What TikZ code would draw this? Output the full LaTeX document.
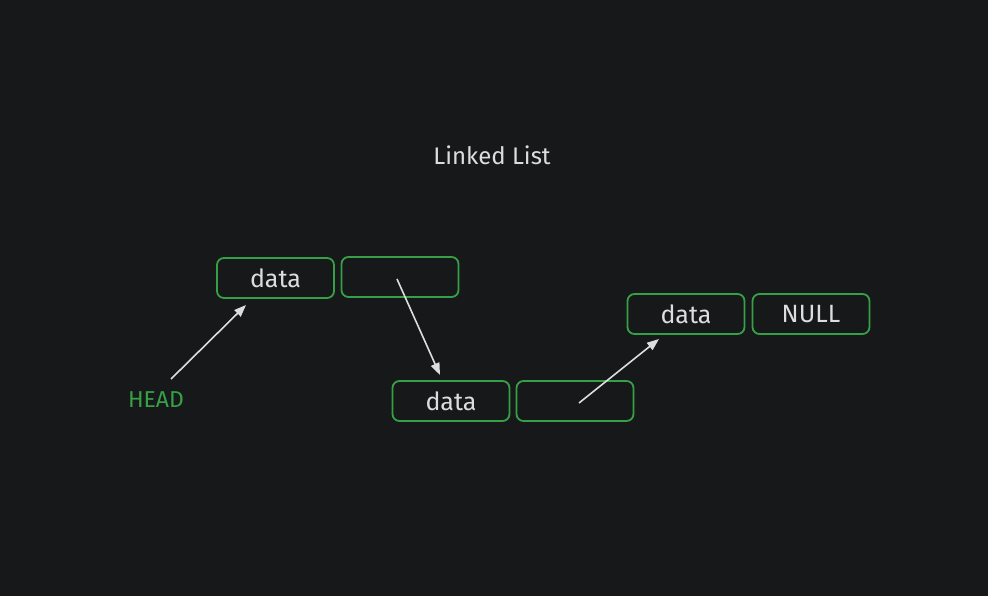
\documentclass[tikz,border=0pt]{standalone}
\usepackage{fontspec}
\setmainfont{Fira Sans}
\usetikzlibrary{arrows.meta}
\definecolor{bg}{HTML}{17181A}
\definecolor{grn}{HTML}{36A046}
\definecolor{txt}{HTML}{DDDDDD}
\tikzset{
  cell/.style={draw=grn, line width=1.8pt, rounded corners=7pt, minimum width=117pt, minimum height=40pt, inner sep=0pt, text=txt, font=\fontsize{25}{28}\selectfont},
  ptr/.style={draw=txt, line width=1.6pt, -{Triangle[length=12pt,width=9pt]}},
  lbl/.style={text=txt, font=\fontsize{24}{28}\selectfont, inner sep=0pt}
}
\begin{document}
\begin{tikzpicture}[x=1pt,y=-1pt]
\fill[bg] (0,0) rectangle (988,596);
\useasboundingbox (0,0) rectangle (988,596);
\node[lbl] (title) at (492,155) {Linked List};
\node[cell] (d1) at (275.5,278) {data};
\node[cell] (n1) at (400,277) {};
\node[cell] (d2) at (451,401) {data};
\node[cell] (n2) at (575,401) {};
\node[cell] (d3) at (686,314) {data};
\node[cell] (n3) at (811,314) {NULL};
\node[lbl, text=grn, font=\fontsize{23}{28}\selectfont] (head) at (156,400) {HEAD};
\coordinate (h0) at (171,379);
\coordinate (h1) at (246,305);
\coordinate (p1a) at (397,279);
\coordinate (p1b) at (440,375);
\coordinate (p2a) at (579,403);
\coordinate (p2b) at (659,339);
\draw[ptr] (h0) -- (h1);
\draw[ptr] (p1a) -- (p1b);
\draw[ptr] (p2a) -- (p2b);
\end{tikzpicture}
\end{document}
